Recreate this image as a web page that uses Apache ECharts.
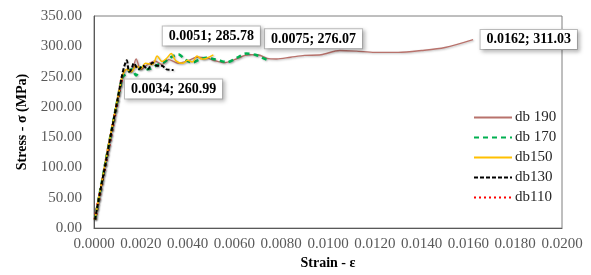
<!DOCTYPE html>
<html lang="en">
<head>
    <meta charset="UTF-8">
    <title>stress strain</title>
    <script src="https://cdn.jsdelivr.net/npm/echarts@6/dist/echarts.min.js"></script>
    <style>
        body { margin: 0; background: #fff; }
        #chart { width: 591px; height: 275px; }
    </style>
</head>
<body>
    <div id="chart"></div>
</body>
<script type="application/javascript">

    // strain / stress pairs
    var db190 = [[0.00004,14],[0.0012,250],[0.0014,262],[0.0016,258],[0.0018,279],[0.0020,262],[0.0023,270],
        [0.0026,276],[0.0029,270],[0.0032,278],[0.0036,272],[0.0040,276],[0.0044,282],[0.0048,281],[0.0052,276],
        [0.0056,273],[0.0060,278],[0.0066,286],[0.0070,286],[0.0074,280],[0.0078,279],[0.0084,282],[0.0090,285],
        [0.0097,286],[0.0105,293],[0.0112,292],[0.0120,290],[0.0130,290],[0.0140,293],[0.0150,298],[0.0162,311.03]];
    var db170 = [[0.00004,14],[0.0012,248],[0.0014,255],[0.0016,262],[0.0018,252],[0.0020,265],[0.0023,262],
        [0.0027,269],[0.0030,274],[0.0033,282],[0.0036,287],[0.0039,278],[0.0042,273],[0.0045,278],[0.0048,281],
        [0.0051,279],[0.0054,276],[0.0057,274],[0.0061,281],[0.0065,288],[0.0069,286],[0.0072,281],[0.0075,276.07]];
    var db150 = [[0.00004,14],[0.0012,250],[0.0014,262],[0.0016,258],[0.0018,268],[0.0020,263],[0.0022,272],
        [0.0025,270],[0.0027,284],[0.0029,275],[0.0031,280],[0.0033,288],[0.0035,276],[0.0038,272],[0.0040,277],
        [0.0042,274],[0.0044,284],[0.0046,279],[0.0048,280],[0.0051,285.78]];
    var db130 = [[0.00004,14],[0.0012,252],[0.0013,268],[0.0014,277],[0.0015,258],[0.0016,262],[0.0017,272],
        [0.0019,262],[0.0021,268],[0.0023,262],[0.0025,273],[0.0027,268],[0.0029,268],[0.0031,262],[0.0034,260.99]];
    var db110 = [[0.00004,14],[0.0012,250]];

    var seriesNames = ['db 190', 'db 170', 'db150', 'db130', 'db110'];

    var serif = '"Liberation Serif", "Times New Roman", serif';

    // callout box on the last point of a series
    function callout(data, pos, dist, off) {
        var last = data[data.length - 1];
        return {
            silent: true,
            symbol: 'circle',
            symbolSize: 1,
            itemStyle: { color: 'rgba(0,0,0,0)' },
            label: {
                show: true,
                position: pos,
                distance: dist,
                offset: off,
                formatter: last[0].toFixed(4) + '; ' + last[1].toFixed(2),
                fontFamily: serif,
                fontWeight: 'bold',
                fontSize: 14,
                color: '#000',
                backgroundColor: '#fff',
                borderColor: '#bfbfbf',
                borderWidth: 1,
                padding: [3, 6, 2, 6],
                shadowColor: 'rgba(0,0,0,0.25)',
                shadowBlur: 4,
                shadowOffsetX: 2,
                shadowOffsetY: 2
            },
            data: [{ coord: last }]
        };
    }

    function lineSeries(name, data, color, width, type, z, mp) {
        var s = {
            name: name,
            type: 'line',
            data: data,
            symbol: 'none',
            smooth: 0.3,
            z: z,
            lineStyle: {
                color: color,
                width: width,
                type: type,
                shadowColor: 'rgba(0,0,0,0.25)',
                shadowBlur: 2,
                shadowOffsetX: 1,
                shadowOffsetY: 1
            },
            itemStyle: { color: color }
        };
        if (mp) s.markPoint = mp;
        return s;
    }

    var chart = echarts.init(document.getElementById('chart'));
    var option = {
        animation: false,
        grid: {
            left: 94, right: 29, top: 16, bottom: 38,
            show: true, borderColor: '#7f7f7f', borderWidth: 1
        },
        legend: {
            orient: 'vertical',
            left: 468, top: 105,
            itemGap: 5,
            itemWidth: 38,
            itemHeight: 10,
            itemStyle: { opacity: 0 },
            data: seriesNames,
            textStyle: { fontFamily: serif, fontSize: 15, color: '#262626', padding: [0, 0, 0, -2] }
        },
        xAxis: {
            type: 'value',
            min: 0, max: 0.02, interval: 0.002,
            name: 'Strain - ε',
            nameLocation: 'middle',
            nameGap: 24,
            nameTextStyle: { fontFamily: serif, fontWeight: 'bold', fontSize: 14, color: '#000' },
            axisLine: { show: true, lineStyle: { color: '#595959' } },
            axisTick: { show: false },
            splitLine: { show: false },
            axisLabel: {
                fontFamily: serif, fontSize: 15, color: '#595959', margin: 8,
                formatter: function (v) { return v.toFixed(4); }
            }
        },
        yAxis: {
            type: 'value',
            min: 0, max: 350, interval: 50,
            name: 'Stress - σ (MPa)',
            nameLocation: 'middle',
            nameGap: 62,
            nameTextStyle: { fontFamily: serif, fontWeight: 'bold', fontSize: 14, color: '#000' },
            axisLine: { show: true, lineStyle: { color: '#595959' } },
            axisTick: { show: false },
            splitLine: { show: false },
            axisLabel: {
                fontFamily: serif, fontSize: 15, color: '#595959', margin: 12,
                formatter: function (v) { return v.toFixed(2); }
            }
        },
        series: [
            lineSeries(seriesNames[0], db190, '#b8726c', 1.4, 'solid', 2, callout(db190, 'right', 7, [0, 0])),
            lineSeries(seriesNames[1], db170, '#00b050', 2.5, [5, 4], 3, callout(db170, 'top', 12, [44, 0])),
            lineSeries(seriesNames[2], db150, '#ffc000', 1.5, 'solid', 4, callout(db150, 'top', 9, [-2, 0])),
            lineSeries(seriesNames[3], db130, '#000000', 2, [4, 2], 5, callout(db130, 'bottom', 9, [0, 0])),
            lineSeries(seriesNames[4], db110, '#ff0000', 3, [2, 3], 1, null)
        ]
    };
    chart.setOption(option);
</script>
</html>
